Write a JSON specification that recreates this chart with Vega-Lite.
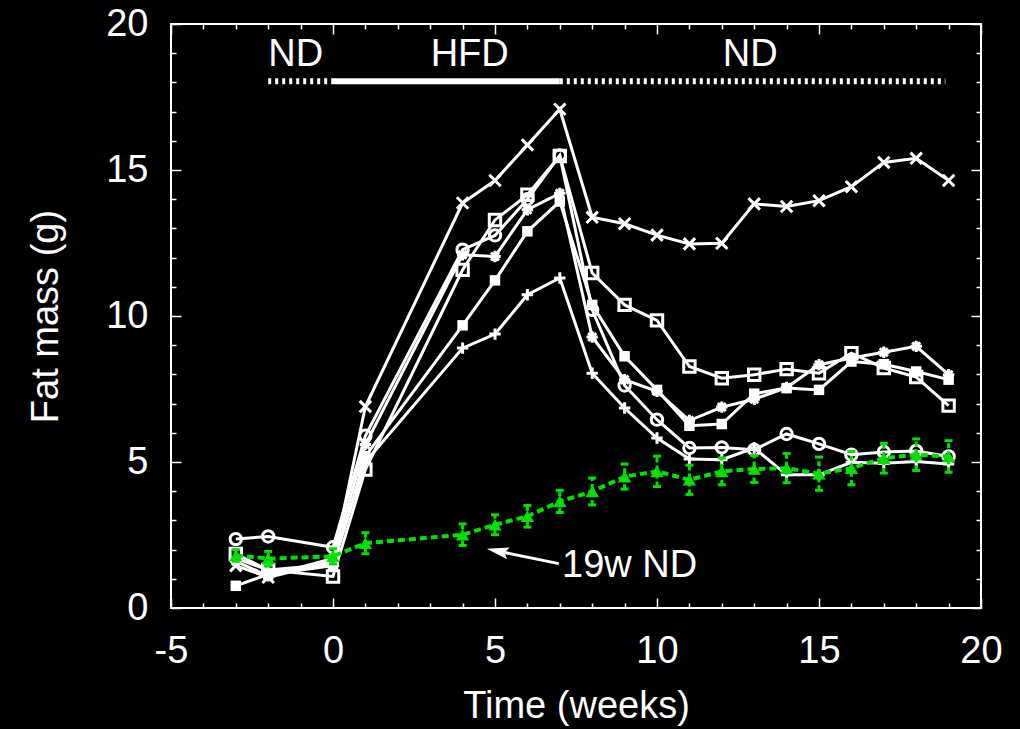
{
  "$schema": "https://vega.github.io/schema/vega-lite/v6.json",
  "width": 810,
  "height": 584,
  "autosize": {"type": "none"},
  "padding": {"left": 171, "top": 24, "right": 39, "bottom": 121},
  "background": "black",
  "config": {
    "view": {"stroke": "white", "strokeWidth": 2},
    "font": "Liberation Sans",
    "axis": {
      "domain": false, "grid": false, "tickColor": "white", "tickWidth": 1.5,
      "labelColor": "white", "labelFontSize": 38, "labelFont": "Liberation Sans",
      "titleColor": "white", "titleFontSize": 38, "titleFont": "Liberation Sans", "titleFontWeight": "normal",
      "labelFlush": false, "labelBound": false, "labelOverlap": false
    }
  },
  "datasets": {
    "white": [
      {"mouse": "A", "t": -3, "v": 1.45}, {"mouse": "A", "t": -2, "v": 1.05}, {"mouse": "A", "t": 0, "v": 1.6}, {"mouse": "A", "t": 1, "v": 6.9},
      {"mouse": "A", "t": 4, "v": 13.87}, {"mouse": "A", "t": 5, "v": 14.64}, {"mouse": "A", "t": 6, "v": 15.86}, {"mouse": "A", "t": 7, "v": 17.08},
      {"mouse": "A", "t": 8, "v": 13.38}, {"mouse": "A", "t": 9, "v": 13.16}, {"mouse": "A", "t": 10, "v": 12.77}, {"mouse": "A", "t": 11, "v": 12.47},
      {"mouse": "A", "t": 12, "v": 12.49}, {"mouse": "A", "t": 13, "v": 13.84}, {"mouse": "A", "t": 14, "v": 13.75}, {"mouse": "A", "t": 15, "v": 13.95},
      {"mouse": "A", "t": 16, "v": 14.43}, {"mouse": "A", "t": 17, "v": 15.26}, {"mouse": "A", "t": 18, "v": 15.4}, {"mouse": "A", "t": 19, "v": 14.64},

      {"mouse": "B", "t": -3, "v": 2.36}, {"mouse": "B", "t": -2, "v": 2.45}, {"mouse": "B", "t": 0, "v": 2.08}, {"mouse": "B", "t": 1, "v": 5.9},
      {"mouse": "B", "t": 4, "v": 12.27}, {"mouse": "B", "t": 5, "v": 12.76}, {"mouse": "B", "t": 6, "v": 14.0}, {"mouse": "B", "t": 7, "v": 15.5},
      {"mouse": "B", "t": 8, "v": 10.21}, {"mouse": "B", "t": 9, "v": 7.62}, {"mouse": "B", "t": 10, "v": 6.45}, {"mouse": "B", "t": 11, "v": 5.48},
      {"mouse": "B", "t": 12, "v": 5.5}, {"mouse": "B", "t": 13, "v": 5.42}, {"mouse": "B", "t": 14, "v": 5.96}, {"mouse": "B", "t": 15, "v": 5.62},
      {"mouse": "B", "t": 16, "v": 5.25}, {"mouse": "B", "t": 17, "v": 5.34}, {"mouse": "B", "t": 18, "v": 5.38}, {"mouse": "B", "t": 19, "v": 5.19},

      {"mouse": "C", "t": -3, "v": 1.85}, {"mouse": "C", "t": -2, "v": 1.3}, {"mouse": "C", "t": 0, "v": 1.08}, {"mouse": "C", "t": 1, "v": 4.74},
      {"mouse": "C", "t": 4, "v": 11.58}, {"mouse": "C", "t": 5, "v": 13.29}, {"mouse": "C", "t": 6, "v": 14.15}, {"mouse": "C", "t": 7, "v": 15.48},
      {"mouse": "C", "t": 8, "v": 11.47}, {"mouse": "C", "t": 9, "v": 10.38}, {"mouse": "C", "t": 10, "v": 9.85}, {"mouse": "C", "t": 11, "v": 8.27},
      {"mouse": "C", "t": 12, "v": 7.87}, {"mouse": "C", "t": 13, "v": 7.99}, {"mouse": "C", "t": 14, "v": 8.18}, {"mouse": "C", "t": 15, "v": 8.04},
      {"mouse": "C", "t": 16, "v": 8.73}, {"mouse": "C", "t": 17, "v": 8.22}, {"mouse": "C", "t": 18, "v": 7.91}, {"mouse": "C", "t": 19, "v": 6.93},

      {"mouse": "D", "t": -3, "v": 0.76}, {"mouse": "D", "t": -2, "v": 1.15}, {"mouse": "D", "t": 0, "v": 1.45}, {"mouse": "D", "t": 1, "v": 5.2},
      {"mouse": "D", "t": 4, "v": 9.68}, {"mouse": "D", "t": 5, "v": 11.22}, {"mouse": "D", "t": 6, "v": 12.9}, {"mouse": "D", "t": 7, "v": 13.92},
      {"mouse": "D", "t": 8, "v": 10.38}, {"mouse": "D", "t": 9, "v": 8.62}, {"mouse": "D", "t": 10, "v": 7.47}, {"mouse": "D", "t": 11, "v": 6.24},
      {"mouse": "D", "t": 12, "v": 6.3}, {"mouse": "D", "t": 13, "v": 7.34}, {"mouse": "D", "t": 14, "v": 7.53}, {"mouse": "D", "t": 15, "v": 7.47},
      {"mouse": "D", "t": 16, "v": 8.44}, {"mouse": "D", "t": 17, "v": 8.35}, {"mouse": "D", "t": 18, "v": 8.1}, {"mouse": "D", "t": 19, "v": 7.82},

      {"mouse": "E", "t": -3, "v": 1.7}, {"mouse": "E", "t": -2, "v": 1.3}, {"mouse": "E", "t": 0, "v": 1.5}, {"mouse": "E", "t": 1, "v": 5.0},
      {"mouse": "E", "t": 4, "v": 8.9}, {"mouse": "E", "t": 5, "v": 9.38}, {"mouse": "E", "t": 6, "v": 10.73}, {"mouse": "E", "t": 7, "v": 11.3},
      {"mouse": "E", "t": 8, "v": 8.04}, {"mouse": "E", "t": 9, "v": 6.85}, {"mouse": "E", "t": 10, "v": 5.82}, {"mouse": "E", "t": 11, "v": 5.1},
      {"mouse": "E", "t": 12, "v": 5.08}, {"mouse": "E", "t": 13, "v": 5.48}, {"mouse": "E", "t": 14, "v": 4.56}, {"mouse": "E", "t": 15, "v": 4.56},
      {"mouse": "E", "t": 16, "v": 4.99}, {"mouse": "E", "t": 17, "v": 4.96}, {"mouse": "E", "t": 18, "v": 5.02}, {"mouse": "E", "t": 19, "v": 4.93},

      {"mouse": "F", "t": -3, "v": 1.6}, {"mouse": "F", "t": -2, "v": 1.1}, {"mouse": "F", "t": 0, "v": 1.7}, {"mouse": "F", "t": 1, "v": 5.6},
      {"mouse": "F", "t": 4, "v": 12.1}, {"mouse": "F", "t": 5, "v": 12.04}, {"mouse": "F", "t": 6, "v": 13.64}, {"mouse": "F", "t": 7, "v": 14.2},
      {"mouse": "F", "t": 8, "v": 9.28}, {"mouse": "F", "t": 9, "v": 7.82}, {"mouse": "F", "t": 10, "v": 7.42}, {"mouse": "F", "t": 11, "v": 6.42},
      {"mouse": "F", "t": 12, "v": 6.88}, {"mouse": "F", "t": 13, "v": 7.15}, {"mouse": "F", "t": 14, "v": 7.55}, {"mouse": "F", "t": 15, "v": 8.33},
      {"mouse": "F", "t": 16, "v": 8.56}, {"mouse": "F", "t": 17, "v": 8.76}, {"mouse": "F", "t": 18, "v": 8.96}, {"mouse": "F", "t": 19, "v": 7.99}
    ],
    "green": [
      {"t": -3, "v": 1.8, "lo": 1.6, "hi": 2.0}, {"t": -2, "v": 1.69, "lo": 1.44, "hi": 1.94}, {"t": 0, "v": 1.77, "lo": 1.51, "hi": 2.03},
      {"t": 1, "v": 2.22, "lo": 1.86, "hi": 2.58}, {"t": 4, "v": 2.51, "lo": 2.14, "hi": 2.88}, {"t": 5, "v": 2.85, "lo": 2.51, "hi": 3.19},
      {"t": 6, "v": 3.14, "lo": 2.77, "hi": 3.51}, {"t": 7, "v": 3.65, "lo": 3.27, "hi": 4.03}, {"t": 8, "v": 3.99, "lo": 3.53, "hi": 4.45},
      {"t": 9, "v": 4.5, "lo": 4.07, "hi": 4.93}, {"t": 10, "v": 4.68, "lo": 4.16, "hi": 5.2}, {"t": 11, "v": 4.39, "lo": 3.89, "hi": 4.89},
      {"t": 12, "v": 4.68, "lo": 4.22, "hi": 5.14}, {"t": 13, "v": 4.76, "lo": 4.3, "hi": 5.22}, {"t": 14, "v": 4.79, "lo": 4.29, "hi": 5.29},
      {"t": 15, "v": 4.6, "lo": 4.03, "hi": 5.17}, {"t": 16, "v": 4.79, "lo": 4.22, "hi": 5.36}, {"t": 17, "v": 5.13, "lo": 4.62, "hi": 5.64},
      {"t": 18, "v": 5.25, "lo": 4.71, "hi": 5.79}, {"t": 19, "v": 5.19, "lo": 4.65, "hi": 5.73}
    ],
    "bar": [
      {"t": -2, "t2": 0, "v": 18.04, "style": "dotted"},
      {"t": 0, "t2": 7, "v": 18.04, "style": "solid"},
      {"t": 7, "t2": 18.9, "v": 18.04, "style": "dotted"}
    ],
    "labels": [
      {"t": -1.15, "v": 18.57, "text": "ND"},
      {"t": 4.22, "v": 18.57, "text": "HFD"},
      {"t": 12.88, "v": 18.57, "text": "ND"}
    ],
    "note": [{"t": 7.07, "v": 1.07, "text": "19w ND"}],
    "arrow": [{"t": 6.97, "v": 1.52, "t2": 5.3, "v2": 1.9}],
    "arrowhead": [{"t": 5.08, "v": 1.95}]
  },
  "resolve": {"axis": {"x": "independent", "y": "independent"}},
  "layer": [
    {
      "data": {"name": "white"},
      "mark": {"type": "line", "color": "white", "strokeWidth": 3},
      "encoding": {
        "x": {"field": "t", "type": "quantitative", "scale": {"domain": [-5, 20], "nice": false, "zero": false},
          "axis": {"orient": "bottom", "values": [-5,-4,-3,-2,-1,0,1,2,3,4,5,6,7,8,9,10,11,12,13,14,15,16,17,18,19,20],
            "labelExpr": "datum.value % 5 === 0 ? '' + datum.value : ''",
            "tickSize": {"condition": {"test": "datum.value % 5 === 0", "value": -10}, "value": -5},
            "labelPadding": 34, "title": "Time (weeks)", "titlePadding": 12}},
        "y": {"field": "v", "type": "quantitative", "scale": {"domain": [0, 20], "nice": false, "zero": false},
          "axis": {"orient": "left", "values": [0,1,2,3,4,5,6,7,8,9,10,11,12,13,14,15,16,17,18,19,20],
            "labelExpr": "datum.value % 5 === 0 ? '' + datum.value : ''",
            "tickSize": {"condition": {"test": "datum.value % 5 === 0", "value": -10}, "value": -5},
            "labelPadding": 33, "title": "Fat mass (g)", "titlePadding": 40}},
        "detail": {"field": "mouse"}
      }
    },
    {
      "data": {"name": "white"},
      "transform": [{"filter": "datum.mouse !== 'D'"}],
      "mark": {"type": "point", "filled": false, "color": "white", "strokeWidth": 3, "size": 130, "opacity": 1},
      "encoding": {
        "x": {"field": "t", "type": "quantitative", "scale": {"domain": [-5, 20], "nice": false, "zero": false},
          "axis": {"orient": "top", "values": [-5,-4,-3,-2,-1,0,1,2,3,4,5,6,7,8,9,10,11,12,13,14,15,16,17,18,19,20],
            "labels": false, "title": null,
            "tickSize": {"condition": {"test": "datum.value % 5 === 0", "value": -10}, "value": -5}}},
        "y": {"field": "v", "type": "quantitative", "scale": {"domain": [0, 20], "nice": false, "zero": false},
          "axis": {"orient": "right", "values": [0,1,2,3,4,5,6,7,8,9,10,11,12,13,14,15,16,17,18,19,20],
            "labels": false, "title": null,
            "tickSize": {"condition": {"test": "datum.value % 5 === 0", "value": -10}, "value": -5}}},
        "shape": {"field": "mouse", "type": "nominal", "legend": null,
          "scale": {"domain": ["A", "B", "C", "E", "F"],
            "range": ["M-1,-1L1,1M-1,1L1,-1", "circle", "square", "M-1,0L1,0M0,-1L0,1", "M-1,0L1,0M0,-1L0,1M-0.7,-0.7L0.7,0.7M-0.7,0.7L0.7,-0.7"]}}
      }
    },
    {
      "data": {"name": "white"},
      "transform": [{"filter": "datum.mouse === 'D'"}],
      "mark": {"type": "point", "shape": "square", "filled": true, "color": "white", "size": 110, "opacity": 1},
      "encoding": {
        "x": {"field": "t", "type": "quantitative", "axis": null},
        "y": {"field": "v", "type": "quantitative", "axis": null}
      }
    },
    {
      "data": {"name": "green"},
      "mark": {"type": "rule", "color": "#00e000", "strokeWidth": 3, "strokeDash": [5, 3]},
      "encoding": {
        "x": {"field": "t", "type": "quantitative", "axis": null},
        "y": {"field": "lo", "type": "quantitative", "axis": null},
        "y2": {"field": "hi"}
      }
    },
    {
      "data": {"name": "green"},
      "mark": {"type": "point", "shape": "M-1,0L1,0", "filled": false, "color": "#00e000", "strokeWidth": 3, "size": 64, "opacity": 1},
      "encoding": {
        "x": {"field": "t", "type": "quantitative", "axis": null},
        "y": {"field": "lo", "type": "quantitative", "axis": null}
      }
    },
    {
      "data": {"name": "green"},
      "mark": {"type": "point", "shape": "M-1,0L1,0", "filled": false, "color": "#00e000", "strokeWidth": 3, "size": 64, "opacity": 1},
      "encoding": {
        "x": {"field": "t", "type": "quantitative", "axis": null},
        "y": {"field": "hi", "type": "quantitative", "axis": null}
      }
    },
    {
      "data": {"name": "green"},
      "mark": {"type": "line", "color": "#00e000", "strokeWidth": 4, "strokeDash": [7, 4]},
      "encoding": {
        "x": {"field": "t", "type": "quantitative", "axis": null},
        "y": {"field": "v", "type": "quantitative", "axis": null}
      }
    },
    {
      "data": {"name": "green"},
      "mark": {"type": "point", "shape": "triangle-up", "filled": true, "color": "#00e000", "size": 180, "opacity": 1},
      "encoding": {
        "x": {"field": "t", "type": "quantitative", "axis": null},
        "y": {"field": "v", "type": "quantitative", "axis": null}
      }
    },
    {
      "data": {"name": "bar"},
      "transform": [{"filter": "datum.style === 'dotted'"}],
      "mark": {"type": "rule", "color": "white", "strokeWidth": 6, "strokeDash": [3, 4]},
      "encoding": {
        "x": {"field": "t", "type": "quantitative", "axis": null},
        "x2": {"field": "t2"},
        "y": {"field": "v", "type": "quantitative", "axis": null}
      }
    },
    {
      "data": {"name": "bar"},
      "transform": [{"filter": "datum.style === 'solid'"}],
      "mark": {"type": "rule", "color": "white", "strokeWidth": 6},
      "encoding": {
        "x": {"field": "t", "type": "quantitative", "axis": null},
        "x2": {"field": "t2"},
        "y": {"field": "v", "type": "quantitative", "axis": null}
      }
    },
    {
      "data": {"name": "labels"},
      "mark": {"type": "text", "color": "white", "fontSize": 38, "font": "Liberation Sans", "align": "center", "baseline": "alphabetic"},
      "encoding": {
        "x": {"field": "t", "type": "quantitative", "axis": null},
        "y": {"field": "v", "type": "quantitative", "axis": null},
        "text": {"field": "text"}
      }
    },
    {
      "data": {"name": "note"},
      "mark": {"type": "text", "color": "white", "fontSize": 38, "font": "Liberation Sans", "align": "left", "baseline": "alphabetic"},
      "encoding": {
        "x": {"field": "t", "type": "quantitative", "axis": null},
        "y": {"field": "v", "type": "quantitative", "axis": null},
        "text": {"field": "text"}
      }
    },
    {
      "data": {"name": "arrow"},
      "mark": {"type": "rule", "color": "white", "strokeWidth": 3},
      "encoding": {
        "x": {"field": "t", "type": "quantitative", "axis": null},
        "y": {"field": "v", "type": "quantitative", "axis": null},
        "x2": {"field": "t2"},
        "y2": {"field": "v2"}
      }
    },
    {
      "data": {"name": "arrowhead"},
      "mark": {"type": "point", "shape": "M0,-1L0.55,1L0,0.65L-0.55,1Z", "filled": true, "color": "white", "size": 484, "angle": 282, "opacity": 1},
      "encoding": {
        "x": {"field": "t", "type": "quantitative", "axis": null},
        "y": {"field": "v", "type": "quantitative", "axis": null}
      }
    }
  ]
}
